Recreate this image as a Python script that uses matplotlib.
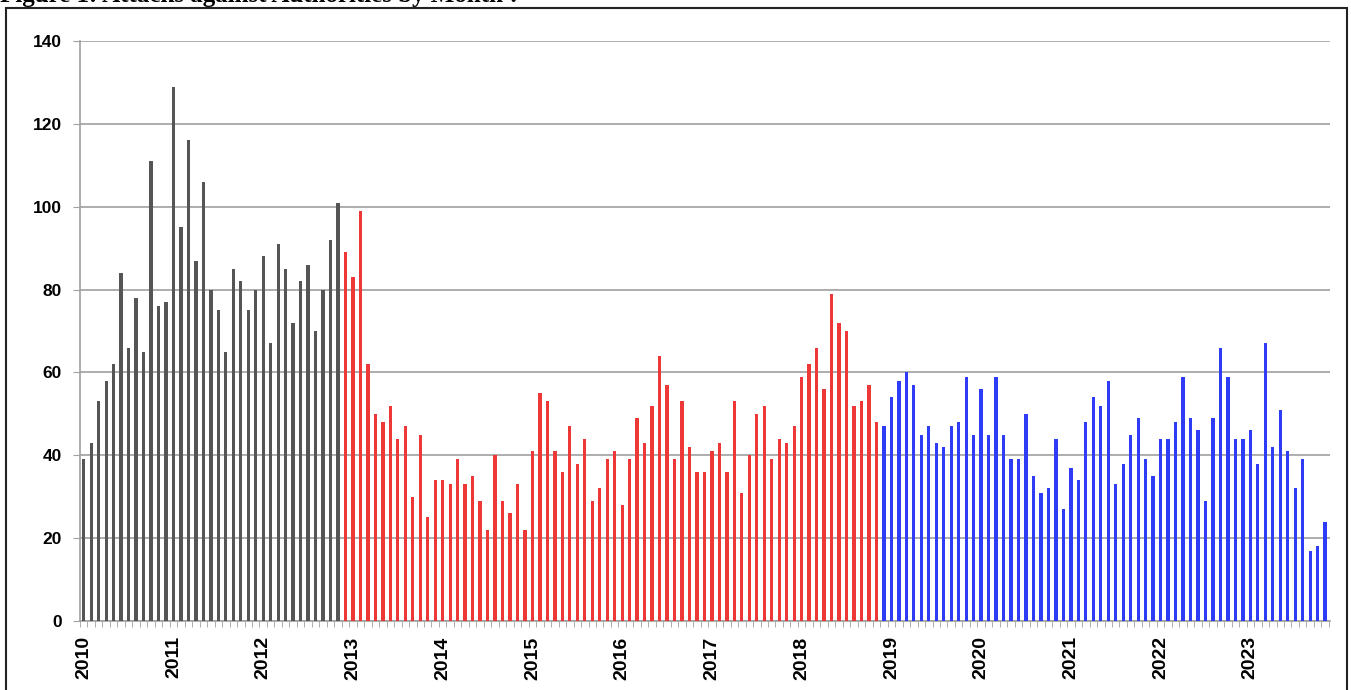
import numpy as np
import matplotlib.pyplot as plt
from matplotlib.patches import Rectangle

# monthly counts, Jan 2010 .. Nov 2023
gray_vals = [39, 43, 53, 58, 62, 84, 66, 78, 65, 111, 76, 77,
             129, 95, 116, 87, 106, 80, 75, 65, 85, 82, 75, 80,
             88, 67, 91, 85, 72, 82, 86, 70, 80, 92, 101]
red_vals = [89, 83, 99, 62, 50, 48, 52, 44, 47, 30, 45, 25,
            34, 34, 33, 39, 33, 35, 29, 22, 40, 29, 26, 33,
            22, 41, 55, 53, 41, 36, 47, 38, 44, 29, 32, 39,
            41, 28, 39, 49, 43, 52, 64, 57, 39, 53, 42, 36,
            36, 41, 43, 36, 53, 31, 40, 50, 52, 39, 44, 43,
            47, 59, 62, 66, 56, 79, 72, 70, 52, 53, 57, 48]
blue_vals = [47, 54, 58, 60, 57, 45, 47, 43, 42, 47, 48, 59,
             45, 56, 45, 59, 45, 39, 39, 50, 35, 31, 32, 44,
             27, 37, 34, 48, 54, 52, 58, 33, 38, 45, 49, 39,
             35, 44, 44, 48, 59, 49, 46, 29, 49, 66, 59, 44,
             44, 46, 38, 67, 42, 51, 41, 32, 39, 17, 18, 24]
years = list(range(2010, 2024))
y_ticks = [0, 20, 40, 60, 80, 100, 120, 140]

fig = plt.figure(figsize=(13.51, 6.90), dpi=100)
ax = fig.add_axes([80 / 1351, 0.1, 1250 / 1351, 580 / 690])

x_gray = np.arange(len(gray_vals))
x_red = np.arange(len(red_vals)) + len(gray_vals)
x_blue = np.arange(len(blue_vals)) + len(gray_vals) + len(red_vals)
n = len(gray_vals) + len(red_vals) + len(blue_vals)

ax.bar(x_gray, gray_vals, width=0.44, color='#555555', zorder=3)
ax.bar(x_red, red_vals, width=0.44, color='#EE3838', zorder=3)
ax.bar(x_blue, blue_vals, width=0.44, color='#2E3DF5', zorder=3)

ax.set_xlim(-0.45, n - 1 + 0.65)
ax.set_ylim(0, 140)

ax.set_yticks(y_ticks)
ax.set_yticklabels([str(v) for v in y_ticks], fontsize=12.5, fontweight='bold',
                   family='Liberation Sans')
ax.yaxis.grid(True, color='#a0a0a0', linewidth=1.2, zorder=0)
ax.tick_params(axis='y', length=5, color='#a0a0a0', pad=8)

ax.set_xticks([12 * i for i in range(len(years))])
ax.set_xticklabels([str(y) for y in years], rotation=90, fontsize=14,
                   fontweight='bold', family='Liberation Sans', va='top')
ax.set_xticks(np.arange(n + 1) - 0.5, minor=True)
ax.tick_params(axis='x', which='major', length=0, pad=11)
ax.tick_params(axis='x', which='minor', length=4, color='#a0a0a0')

for s in ['top', 'right']:
    ax.spines[s].set_visible(False)
for s in ['left', 'bottom']:
    ax.spines[s].set_color('#a0a0a0')
    ax.spines[s].set_linewidth(1.2)

# outer frame and caption, partly cut off at the top as in the source
fig.patches.append(Rectangle((6 / 1351, -0.05), 1341 / 1351, 1.05 - 8 / 690,
                             transform=fig.transFigure, fill=False,
                             edgecolor='#222222', linewidth=1.5))
fig.text(0.0, 1 - 2 / 690, 'Figure 1: Attacks against Authorities by Month\u00b9.',
         fontsize=18, fontweight='bold', family='Liberation Serif',
         ha='left', va='baseline')

plt.savefig('out.png', dpi=100)
plt.close()
